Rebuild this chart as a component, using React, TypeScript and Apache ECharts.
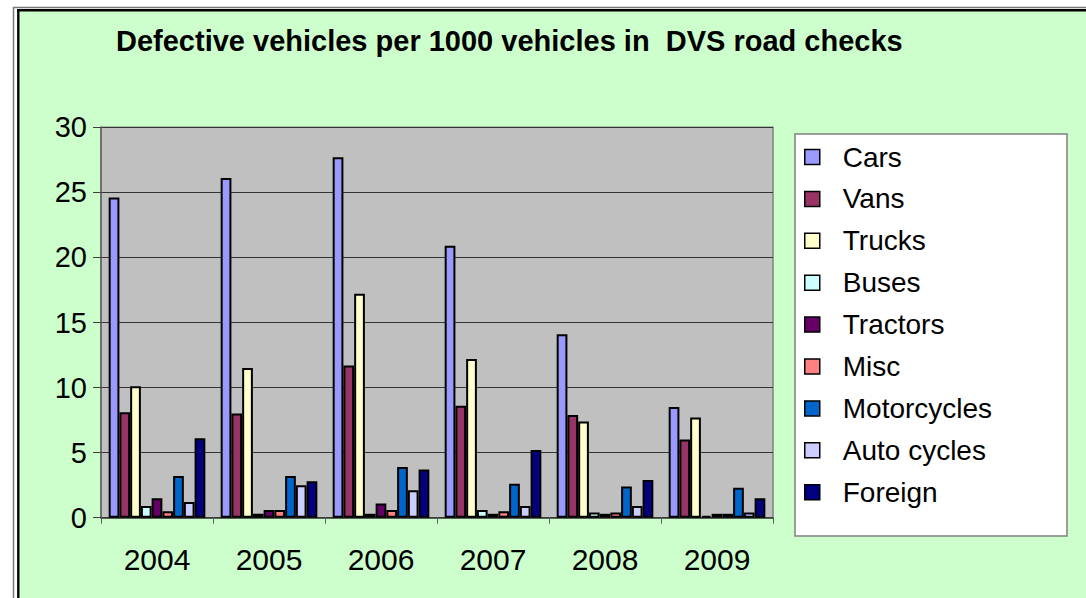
import React, { useEffect, useRef } from "react";
import * as echarts from "echarts";

const titleText = "Defective vehicles per 1000 vehicles in  DVS road checks";
const years = ["2004", "2005", "2006", "2007", "2008", "2009"];
const seriesNames = ["Cars", "Vans", "Trucks", "Buses", "Tractors", "Misc", "Motorcycles", "Auto cycles", "Foreign"];
const seriesColors = ["#9999FF", "#993366", "#FFFFCC", "#CCFFFF", "#660066", "#FF8080", "#0066CC", "#CCCCFF", "#000080"];

const cars = [24.6, 26.1, 27.7, 20.9, 14.1, 8.5];
const vans = [8.1, 8.0, 11.7, 8.6, 7.9, 6.0];
const trucks = [10.1, 11.5, 17.2, 12.2, 7.4, 7.7];
const buses = [0.9, 0.3, 0.3, 0.6, 0.4, 0.15];
const tractors = [1.5, 0.6, 1.1, 0.3, 0.3, 0.3];
const misc = [0.5, 0.6, 0.6, 0.5, 0.4, 0.3];
const motorcycles = [3.2, 3.2, 3.9, 2.6, 2.4, 2.3];
const autoCycles = [1.2, 2.5, 2.1, 0.9, 0.9, 0.4];
const foreign = [6.1, 2.8, 3.7, 5.2, 2.9, 1.5];

const seriesValues = [cars, vans, trucks, buses, tractors, misc, motorcycles, autoCycles, foreign];

const FONT = "'Liberation Sans', Arial, Helvetica, sans-serif";

export default function App() {
  const ref = useRef<HTMLDivElement>(null);
  useEffect(() => {
    if (!ref.current) return;
    const chart = echarts.init(ref.current, null, { renderer: "svg" });
    const option: any = {
      animation: false,
      backgroundColor: "#FFFFFF",
      textStyle: { fontFamily: FONT },
      graphic: [
        { type: "rect", shape: { x: 19, y: 11, width: 1100, height: 600 }, style: { fill: "#CCFFCC" }, z: -10, silent: true },
        { type: "line", shape: { x1: 13.5, y1: 7, x2: 13.5, y2: 610 }, style: { stroke: "#777", lineWidth: 1.5 }, z: -5 },
        { type: "line", shape: { x1: 13, y1: 7.5, x2: 1100, y2: 7.5 }, style: { stroke: "#777", lineWidth: 1.5 }, z: -5 },
        { type: "line", shape: { x1: 18.3, y1: 9.3, x2: 18.3, y2: 610 }, style: { stroke: "#000", lineWidth: 2.4 }, z: -5 },
        { type: "line", shape: { x1: 17, y1: 10.3, x2: 1100, y2: 10.3 }, style: { stroke: "#000", lineWidth: 2.4 }, z: -5 },
        { type: "rect", shape: { x: 795, y: 134, width: 272, height: 402 }, style: { fill: "#FFFFFF", stroke: "#808080", lineWidth: 1.5 }, z: -4 },
      ],
      title: {
        text: titleText,
        left: 116,
        top: 26.5,
        padding: 0,
        textStyle: { fontFamily: FONT, fontWeight: "bold", fontSize: 29, color: "#000" },
      },
      legend: {
        orient: "vertical",
        left: 804,
        top: 143,
        padding: 0,
        itemWidth: 15,
        itemHeight: 15,
        itemGap: 13.9,
        icon: "rect",
        itemStyle: { borderColor: "#000", borderWidth: 1.5 },
        textStyle: { fontFamily: FONT, fontSize: 28, color: "#000", lineHeight: 28, padding: [0, 0, 0, 18] },
        data: seriesNames,
      },
      grid: {
        left: 101,
        top: 127.3,
        width: 672,
        height: 390.4,
        show: true,
        backgroundColor: "#C0C0C0",
        borderColor: "#808080",
        borderWidth: 1.5,
      },
      xAxis: {
        type: "category",
        data: years,
        axisLine: { show: true, lineStyle: { color: "#404040", width: 1.5 } },
        axisTick: { show: true, length: 6, lineStyle: { color: "#606060" } },
        axisLabel: { fontFamily: FONT, fontSize: 30, color: "#000", margin: 27 },
      },
      yAxis: {
        type: "value",
        min: 0,
        max: 30,
        interval: 5,
        axisLine: { show: true, lineStyle: { color: "#606060", width: 1.5 } },
        axisTick: { show: true, length: 8, lineStyle: { color: "#404040" } },
        splitLine: { show: true, lineStyle: { color: "#333", width: 1 } },
        axisLabel: { fontFamily: FONT, fontSize: 29, color: "#000", margin: 14 },
      },
      series: seriesNames.map((name, i) => ({
        name,
        type: "bar",
        data: seriesValues[i],
        barGap: "0%",
        barCategoryGap: "13.7%",
        itemStyle: { color: seriesColors[i], borderColor: "#000", borderWidth: 2 },
      })),
    };
    chart.setOption(option);
    return () => chart.dispose();
  }, []);
  return <div ref={ref} style={{ position: "absolute", left: 0, top: 0, width: 1086, height: 598 }} />;
}
